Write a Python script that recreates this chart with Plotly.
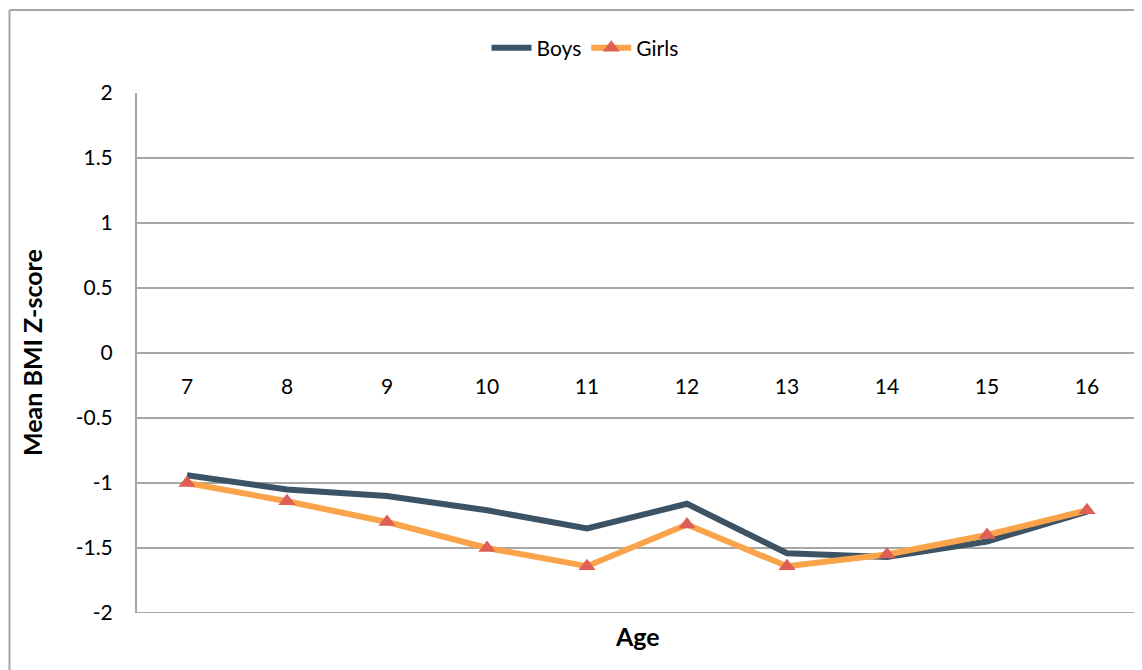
import plotly.graph_objects as go

ages = [7, 8, 9, 10, 11, 12, 13, 14, 15, 16]
boys = [-0.94, -1.05, -1.10, -1.21, -1.35, -1.16, -1.54, -1.57, -1.45, -1.22]
girls = [-1.00, -1.14, -1.30, -1.50, -1.64, -1.32, -1.64, -1.55, -1.40, -1.21]
y_ticks = [2, 1.5, 1, 0.5, 0, -0.5, -1, -1.5, -2]
y_tick_labels = ["2", "1.5", "1", "0.5", "0", "-0.5", "-1", "-1.5", "-2"]

FONT = "Lato"
GRID = "#a6a6a6"

fig = go.Figure()
fig.add_trace(go.Scatter(x=ages, y=boys, name="Boys", mode="lines",
                         line=dict(color="#3c5366", width=6)))
fig.add_trace(go.Scatter(x=ages, y=girls, name="Girls", mode="lines+markers",
                         line=dict(color="#f9a44a", width=6),
                         marker=dict(symbol="triangle-up", size=15, color="#df5f55",
                                     line=dict(width=0))))

# page body has 8px default margin; screen coords = figure coords + 8
OFF = 8
W, H = 1142, 670
L, T = 137 - OFF, 93 - OFF
R = W - (1137 - OFF)
B = H - (613 - OFF)
pw, ph = W - L - R, H - T - B

def px_x(x):
    return (x - OFF - L) / pw

def px_y(y):
    return (H - B - (y - OFF)) / ph

fig.update_layout(
    width=W, height=H,
    margin=dict(l=L, r=R, t=T, b=B),
    paper_bgcolor="white", plot_bgcolor="white",
    font=dict(family=FONT, size=21, color="#000"),
    showlegend=True,
    legend=dict(orientation="h", x=px_x(585), xanchor="center",
                y=px_y(48), yanchor="middle", font=dict(size=21),
                itemwidth=40, traceorder="normal"),
    xaxis=dict(range=[6.5, 16.5], tickmode="array", tickvals=ages,
               ticktext=[str(a) for a in ages], showgrid=False, zeroline=False,
               showline=False, anchor="free", position=0.5, ticks="",
               ticklabelstandoff=19, tickfont=dict(size=21)),
    yaxis=dict(range=[-2, 2], tickmode="array", tickvals=y_ticks,
               ticktext=y_tick_labels, showgrid=True, gridcolor=GRID, gridwidth=2,
               zeroline=False, showline=True, linecolor=GRID, linewidth=2,
               ticks="", ticklabelstandoff=18, tickfont=dict(size=21)),
    annotations=[
        dict(text="<b>Age</b>", x=px_x(637), y=px_y(636), xref="paper",
             yref="paper", showarrow=False, font=dict(size=25),
             xanchor="center", yanchor="middle"),
        dict(text="<b>Mean BMI Z-score</b>", x=px_x(32), y=px_y(353), xref="paper",
             yref="paper", showarrow=False, font=dict(size=25), textangle=-90,
             xanchor="center", yanchor="middle"),
    ],
    shapes=[
        dict(type="line", xref="paper", yref="y", x0=0, x1=1, y0=-2, y1=-2,
             line=dict(color=GRID, width=2), layer="below"),
        dict(type="line", xref="paper", yref="paper", x0=px_x(9.5), x1=px_x(9.5),
             y0=px_y(10), y1=px_y(700), line=dict(color=GRID, width=2)),
        dict(type="line", xref="paper", yref="paper", x0=px_x(9.5), x1=px_x(1160),
             y0=px_y(10), y1=px_y(10), line=dict(color=GRID, width=2)),
    ],
)

fig.write_html("out.html")
